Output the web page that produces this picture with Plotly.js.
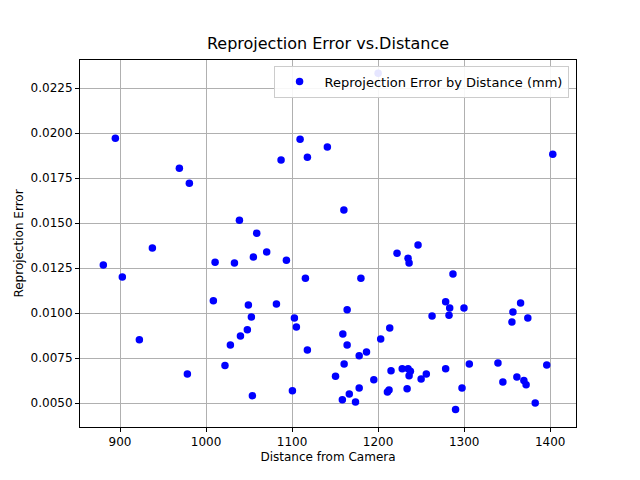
<!DOCTYPE html><html><head><script src="https://cdn.plot.ly/plotly-3.0.1.min.js"></script></head><body style="margin:0">
<div id="c" style="width:640px;height:480px"></div>
<script>
const distance=[894.6,969,980.6,937.6,880.6,902.7,922.5,978.3,1038.8,1058.9,1070.5,1055,1010.5,1033,1093.4,1087.2,1109.3,1117.8,1141,1115.5,1008.5,1049.2,1081.8,1052.7,1102.7,1105,1048,1040,1028.3,1117.8,1022,1053.9,1100.4,
1403,1160.2,1246.4,1222,1234.8,1236,1287,1180,1164,1278.5,1283.2,1299.8,1282.4,1262.7,1356.7,1365.6,1355.5,1374,1159,1164,1213.5,1203,1178,1186.5,1160.5,1150.5,1195,1215,1228,1234.8,1237.5,1236,1250,1256,1278.5,1306,1339.3,1345,1361.3,1369.4,1372,1396,1178,1166.5,1158.4,1173.7,1210.8,1212.7,1233.7,1297.5,1290,1382.6,1200];
const error=[0.01972,0.01806,0.01722,0.01362,0.01268,0.01201,0.00853,0.00662,0.01517,0.01445,0.0134,0.01312,0.01284,0.01279,0.01295,0.01852,0.01967,0.01867,0.01923,0.01195,0.0107,0.01046,0.01051,0.00979,0.00974,0.00924,0.00909,0.00874,0.00824,0.00796,0.00709,0.00542,0.0057,
0.01884,0.01573,0.01379,0.01334,0.01306,0.01279,0.01218,0.01195,0.0102,0.01064,0.01029,0.01029,0.00989,0.00985,0.01007,0.01057,0.00951,0.00974,0.00885,0.00824,0.00918,0.00857,0.00764,0.00784,0.00718,0.0065,0.0063,0.0068,0.00691,0.00691,0.00678,0.00653,0.00635,0.00663,0.00691,0.00718,0.00724,0.00618,0.00646,0.00627,0.00603,0.00713,0.00585,0.00552,0.0052,0.00507,0.00563,0.00574,0.0058,0.00585,0.00465,0.00502,0.02333];
const ax={showline:true,mirror:true,linecolor:'black',linewidth:1,showgrid:true,gridcolor:'#b0b0b0',zeroline:false,ticks:'outside',ticklen:4,tickcolor:'black',tickfont:{size:12,color:'black'}};
Plotly.newPlot('c',[{x:distance,y:error,mode:'markers',type:'scatter',name:'Reprojection Error by Distance (mm)',marker:{color:'blue',size:7.5}}],{
width:640,height:480,margin:{l:80,r:64,t:60,b:53},paper_bgcolor:'white',plot_bgcolor:'white',
font:{family:'DejaVu Sans',color:'black'},
title:{text:'Reprojection Error vs.Distance',font:{size:16},x:0.5,xref:'paper',y:0.91,yanchor:'middle'},
xaxis:Object.assign({},ax,{range:[853.5,1430],tickvals:[900,1000,1100,1200,1300,1400],title:{text:'Distance from Camera',font:{size:12},standoff:4}}),
yaxis:Object.assign({},ax,{range:[0.00368,0.02407],tickvals:[0.005,0.0075,0.01,0.0125,0.015,0.0175,0.02,0.0225],tickformat:'.4f',title:{text:'Reprojection Error',font:{size:12},standoff:4}}),
showlegend:true,legend:{x:0.985,y:0.985,xanchor:'right',yanchor:'top',bgcolor:'rgba(255,255,255,0.9)',bordercolor:'#ccc',borderwidth:1,font:{size:13},itemwidth:40}
},{staticPlot:true});
</script></body></html>
